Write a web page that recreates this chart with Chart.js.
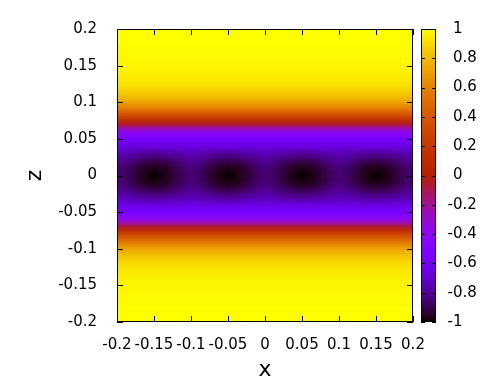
<!DOCTYPE html>
<html>
<head>
<meta charset="utf-8">
<script src="https://cdn.jsdelivr.net/npm/chart.js@4/dist/chart.umd.min.js"></script>
<style>
html,body{margin:0;padding:0;background:#fff;}
canvas{display:block;}
</style>
</head>
<body>
<canvas id="c" width="489" height="385"></canvas>
<script>
// ---- data ----
const xLevels = [-0.2,-0.1875,-0.175,-0.1625,-0.15,-0.1375,-0.125,-0.1125,-0.1,-0.0875,-0.075,-0.0625,-0.05,-0.0375,-0.025,-0.0125,0,0.0125,0.025,0.0375,0.05,0.0625,0.075,0.0875,0.1,0.1125,0.125,0.1375,0.15,0.1625,0.175,0.1875,0.2];

const zLevels = [0.2,0.195,0.19,0.185,0.18,0.175,0.17,0.165,0.16,0.155,0.15,0.145,0.14,0.135,0.13,0.125,0.12,0.115,0.11,0.105,0.1,0.095,0.09,0.085,0.08,0.075,0.07,0.065,0.06,0.055,0.05,0.045,0.04,0.035,0.03,0.025,0.02,0.015,0.01,0.005,0,
-0.005,-0.01,-0.015,-0.02,-0.025,-0.03,-0.035,-0.04,-0.045,-0.05,-0.055,-0.06,-0.065,-0.07,-0.075,-0.08,-0.085,-0.09,-0.095,-0.1,-0.105,-0.11,-0.115,-0.12,-0.125,-0.13,-0.135,-0.14,-0.145,-0.15,-0.155,-0.16,-0.165,-0.17,-0.175,-0.18,-0.185,-0.19,-0.195,-0.2];

// value of each z row where the field does not vary along x
const rowLevel = [1.00,1.00,1.00,1.00,1.00,0.99,0.99,0.99,0.98,0.98,0.97,0.97,0.96,0.95,0.94,0.92,0.90,0.87,0.83,0.78,0.72,0.64,0.54,0.42,0.28,0.12,-0.06,-0.22,-0.36,-0.46,-0.54,-0.60,-0.65,-0.70,-0.74,-0.77,-0.80,-0.82,-0.84,-0.85,
-0.85,
-0.85,-0.84,-0.82,-0.80,-0.77,-0.74,-0.70,-0.65,-0.60,-0.54,-0.46,-0.36,-0.22,-0.06,0.12,0.28,0.42,0.54,0.64,0.72,0.78,0.83,0.87,0.90,0.92,0.94,0.95,0.96,0.97,0.97,0.98,0.98,0.99,0.99,0.99,1.00,1.00,1.00,1.00,1.00];

// central rows, where the dark spots make the field vary along x
const coreZ = [0.035,0.03,0.025,0.02,0.015,0.01,0.005,0,-0.005,-0.01,-0.015,-0.02,-0.025,-0.03,-0.035];
const coreRows = [
[-0.70,-0.71,-0.72,-0.73,-0.74,-0.73,-0.72,-0.71,-0.70,-0.71,-0.72,-0.73,-0.74,-0.73,-0.72,-0.71,-0.70,-0.71,-0.72,-0.73,-0.74,-0.73,-0.72,-0.71,-0.70,-0.71,-0.72,-0.73,-0.74,-0.73,-0.72,-0.71,-0.70],
[-0.74,-0.76,-0.78,-0.79,-0.80,-0.79,-0.78,-0.76,-0.74,-0.76,-0.78,-0.79,-0.80,-0.79,-0.78,-0.76,-0.74,-0.76,-0.78,-0.79,-0.80,-0.79,-0.78,-0.76,-0.74,-0.76,-0.78,-0.79,-0.80,-0.79,-0.78,-0.76,-0.74],
[-0.77,-0.79,-0.82,-0.84,-0.85,-0.84,-0.82,-0.79,-0.77,-0.79,-0.82,-0.84,-0.85,-0.84,-0.82,-0.79,-0.77,-0.79,-0.82,-0.84,-0.85,-0.84,-0.82,-0.79,-0.77,-0.79,-0.82,-0.84,-0.85,-0.84,-0.82,-0.79,-0.77],
[-0.80,-0.82,-0.86,-0.89,-0.90,-0.89,-0.86,-0.82,-0.80,-0.82,-0.86,-0.89,-0.90,-0.89,-0.86,-0.82,-0.80,-0.82,-0.86,-0.89,-0.90,-0.89,-0.86,-0.82,-0.80,-0.82,-0.86,-0.89,-0.90,-0.89,-0.86,-0.82,-0.80],
[-0.82,-0.85,-0.89,-0.93,-0.94,-0.93,-0.89,-0.85,-0.82,-0.85,-0.89,-0.93,-0.94,-0.93,-0.89,-0.85,-0.82,-0.85,-0.89,-0.93,-0.94,-0.93,-0.89,-0.85,-0.82,-0.85,-0.89,-0.93,-0.94,-0.93,-0.89,-0.85,-0.82],
[-0.84,-0.87,-0.92,-0.96,-0.97,-0.96,-0.92,-0.87,-0.84,-0.87,-0.92,-0.96,-0.97,-0.96,-0.92,-0.87,-0.84,-0.87,-0.92,-0.96,-0.97,-0.96,-0.92,-0.87,-0.84,-0.87,-0.92,-0.96,-0.97,-0.96,-0.92,-0.87,-0.84],
[-0.85,-0.88,-0.93,-0.97,-0.99,-0.97,-0.93,-0.88,-0.85,-0.88,-0.93,-0.97,-0.99,-0.97,-0.93,-0.88,-0.85,-0.88,-0.93,-0.97,-0.99,-0.97,-0.93,-0.88,-0.85,-0.88,-0.93,-0.97,-0.99,-0.97,-0.93,-0.88,-0.85],
[-0.85,-0.88,-0.93,-0.98,-1.00,-0.98,-0.93,-0.88,-0.85,-0.88,-0.93,-0.98,-1.00,-0.98,-0.93,-0.88,-0.85,-0.88,-0.93,-0.98,-1.00,-0.98,-0.93,-0.88,-0.85,-0.88,-0.93,-0.98,-1.00,-0.98,-0.93,-0.88,-0.85],
[-0.85,-0.88,-0.93,-0.97,-0.99,-0.97,-0.93,-0.88,-0.85,-0.88,-0.93,-0.97,-0.99,-0.97,-0.93,-0.88,-0.85,-0.88,-0.93,-0.97,-0.99,-0.97,-0.93,-0.88,-0.85,-0.88,-0.93,-0.97,-0.99,-0.97,-0.93,-0.88,-0.85],
[-0.84,-0.87,-0.92,-0.96,-0.97,-0.96,-0.92,-0.87,-0.84,-0.87,-0.92,-0.96,-0.97,-0.96,-0.92,-0.87,-0.84,-0.87,-0.92,-0.96,-0.97,-0.96,-0.92,-0.87,-0.84,-0.87,-0.92,-0.96,-0.97,-0.96,-0.92,-0.87,-0.84],
[-0.82,-0.85,-0.89,-0.93,-0.94,-0.93,-0.89,-0.85,-0.82,-0.85,-0.89,-0.93,-0.94,-0.93,-0.89,-0.85,-0.82,-0.85,-0.89,-0.93,-0.94,-0.93,-0.89,-0.85,-0.82,-0.85,-0.89,-0.93,-0.94,-0.93,-0.89,-0.85,-0.82],
[-0.80,-0.82,-0.86,-0.89,-0.90,-0.89,-0.86,-0.82,-0.80,-0.82,-0.86,-0.89,-0.90,-0.89,-0.86,-0.82,-0.80,-0.82,-0.86,-0.89,-0.90,-0.89,-0.86,-0.82,-0.80,-0.82,-0.86,-0.89,-0.90,-0.89,-0.86,-0.82,-0.80],
[-0.77,-0.79,-0.82,-0.84,-0.85,-0.84,-0.82,-0.79,-0.77,-0.79,-0.82,-0.84,-0.85,-0.84,-0.82,-0.79,-0.77,-0.79,-0.82,-0.84,-0.85,-0.84,-0.82,-0.79,-0.77,-0.79,-0.82,-0.84,-0.85,-0.84,-0.82,-0.79,-0.77],
[-0.74,-0.76,-0.78,-0.79,-0.80,-0.79,-0.78,-0.76,-0.74,-0.76,-0.78,-0.79,-0.80,-0.79,-0.78,-0.76,-0.74,-0.76,-0.78,-0.79,-0.80,-0.79,-0.78,-0.76,-0.74,-0.76,-0.78,-0.79,-0.80,-0.79,-0.78,-0.76,-0.74],
[-0.70,-0.71,-0.72,-0.73,-0.74,-0.73,-0.72,-0.71,-0.70,-0.71,-0.72,-0.73,-0.74,-0.73,-0.72,-0.71,-0.70,-0.71,-0.72,-0.73,-0.74,-0.73,-0.72,-0.71,-0.70,-0.71,-0.72,-0.73,-0.74,-0.73,-0.72,-0.71,-0.70]
];

const xTicks = [-0.2,-0.15,-0.1,-0.05,0,0.05,0.1,0.15,0.2];
const xTickLabels = ['-0.2','-0.15','-0.1','-0.05','0','0.05','0.1','0.15','0.2'];
const zTicks = [-0.2,-0.15,-0.1,-0.05,0,0.05,0.1,0.15,0.2];
const zTickLabels = ['-0.2','-0.15','-0.1','-0.05','0','0.05','0.1','0.15','0.2'];
const cbTicks = [-1,-0.8,-0.6,-0.4,-0.2,0,0.2,0.4,0.6,0.8,1];
const cbTickLabels = ['-1','-0.8','-0.6','-0.4','-0.2','0','0.2','0.4','0.6','0.8','1'];

// ---- table built from the arrays ----
function buildGrid() {
  const key = v => v.toFixed(4);
  const coreMap = {};
  coreZ.forEach((z, k) => { coreMap[key(z)] = coreRows[k]; });
  return zLevels.map((z, j) => coreMap[key(z)] || xLevels.map(() => rowLevel[j]));
}

// gnuplot default pm3d palette (rgbformulae 7,5,15)
function palette(v) {
  let t = (v + 1) / 2;
  t = Math.max(0, Math.min(1, t));
  const r = Math.sqrt(t), g = t * t * t, b = Math.max(0, Math.sin(2 * Math.PI * t));
  return [Math.round(r * 255), Math.round(g * 255), Math.round(b * 255)];
}

const FONT = 'DejaVu Sans';

const heatPlugin = {
  id: 'heat',
  beforeDatasetsDraw(chart) {
    const {ctx, chartArea: a, scales: {x, y}} = chart;
    const grid = buildGrid();
    const off = document.createElement('canvas');
    off.width = xLevels.length; off.height = zLevels.length;
    const octx = off.getContext('2d');
    const img = octx.createImageData(off.width, off.height);
    for (let j = 0; j < zLevels.length; j++) {
      for (let i = 0; i < xLevels.length; i++) {
        const c = palette(grid[j][i]);
        const p = (j * off.width + i) * 4;
        img.data[p] = c[0]; img.data[p + 1] = c[1]; img.data[p + 2] = c[2]; img.data[p + 3] = 255;
      }
    }
    octx.putImageData(img, 0, 0);
    const hx = (xLevels[1] - xLevels[0]) / 2;
    const hz = (zLevels[0] - zLevels[1]) / 2;
    const px0 = x.getPixelForValue(xLevels[0] - hx);
    const px1 = x.getPixelForValue(xLevels[xLevels.length - 1] + hx);
    const py0 = y.getPixelForValue(zLevels[0] + hz);
    const py1 = y.getPixelForValue(zLevels[zLevels.length - 1] - hz);
    ctx.save();
    ctx.beginPath();
    ctx.rect(a.left, a.top, a.right - a.left, a.bottom - a.top);
    ctx.clip();
    ctx.imageSmoothingEnabled = true;
    ctx.imageSmoothingQuality = 'low';
    ctx.drawImage(off, px0, py0, px1 - px0, py1 - py0);
    ctx.restore();
  },
  afterDatasetsDraw(chart) {
    const {ctx, chartArea: a, scales: {x, y, cb}} = chart;
    ctx.save();
    ctx.strokeStyle = '#000';
    ctx.lineWidth = 1;
    // plot border
    ctx.strokeRect(Math.round(a.left) + 0.5, Math.round(a.top) + 0.5, Math.round(a.right - a.left) - 1, Math.round(a.bottom - a.top) - 1);
    const TL = 6;
    ctx.beginPath();
    xTicks.forEach(v => {
      const px = Math.round(x.getPixelForValue(v)) + 0.5;
      ctx.moveTo(px, a.bottom); ctx.lineTo(px, a.bottom - TL);
      ctx.moveTo(px, a.top); ctx.lineTo(px, a.top + TL);
    });
    zTicks.forEach(v => {
      const py = Math.round(y.getPixelForValue(v)) + 0.5;
      ctx.moveTo(a.left, py); ctx.lineTo(a.left + TL, py);
      ctx.moveTo(a.right, py); ctx.lineTo(a.right - TL, py);
    });
    ctx.stroke();

    // colour box
    const cl = Math.round(a.right) + 8, cr = Math.round(a.right) + 23;
    const ct = Math.round(cb.getPixelForValue(cb.max)), cbm = Math.round(cb.getPixelForValue(cb.min));
    for (let py = ct; py < cbm; py++) {
      const c = palette(cb.getValueForPixel(py + 0.5));
      ctx.fillStyle = `rgb(${c[0]},${c[1]},${c[2]})`;
      ctx.fillRect(cl, py, cr - cl, 1);
    }
    ctx.strokeRect(cl + 0.5, ct + 0.5, cr - cl - 1, cbm - ct - 1);
    ctx.beginPath();
    cbTicks.forEach(v => {
      const py = Math.round(cb.getPixelForValue(v)) + 0.5;
      ctx.moveTo(cl, py); ctx.lineTo(cl + 4, py);
      ctx.moveTo(cr, py); ctx.lineTo(cr - 4, py);
    });
    ctx.stroke();
    ctx.fillStyle = '#000';
    ctx.font = `15px "${FONT}"`;
    ctx.textAlign = 'left';
    ctx.textBaseline = 'middle';
    const minusW = ctx.measureText('-').width;
    cbTicks.forEach((v, i) => {
      const lab = cbTickLabels[i];
      let tx = Math.round(a.right) + 40;
      if (lab.charAt(0) === '-') tx -= minusW;
      ctx.fillText(lab, tx, cb.getPixelForValue(v));
    });
    ctx.restore();
  }
};

new Chart(document.getElementById('c'), {
  type: 'scatter',
  data: { datasets: [{ data: [], pointRadius: 0 }] },
  options: {
    responsive: false,
    animation: false,
    devicePixelRatio: 1,
    layout: { padding: { top: 25, left: 0, right: 0, bottom: 0 } },
    plugins: { legend: { display: false }, tooltip: { enabled: false } },
    scales: {
      x: {
        type: 'linear', position: 'bottom', min: -0.2, max: 0.2,
        grid: { display: false, drawTicks: false },
        border: { display: false },
        afterBuildTicks: s => { s.ticks = xTicks.map(v => ({ value: v })); },
        afterFit: s => { s.height = 63; },
        ticks: {
          autoSkip: false, maxRotation: 0, padding: 14, color: '#000',
          font: { family: FONT, size: 15 },
          callback: (v, i) => xTickLabels[i]
        },
        title: { display: true, text: 'x', color: '#000', font: { family: FONT, size: 22 }, padding: { top: 0, bottom: 2 } }
      },
      y: {
        type: 'linear', position: 'left', min: -0.2, max: 0.2,
        grid: { display: false, drawTicks: false },
        border: { display: false },
        afterBuildTicks: s => { s.ticks = zTicks.map(v => ({ value: v })); },
        afterFit: s => { s.width = 117; },
        ticks: {
          autoSkip: false, padding: 20, color: '#000',
          font: { family: FONT, size: 15 },
          callback: (v, i) => zTickLabels[i]
        },
        title: { display: true, text: 'z', color: '#000', font: { family: FONT, size: 22 }, padding: { top: 22, bottom: 0 } }
      },
      cb: {
        type: 'linear', position: 'right', min: -1, max: 1,
        grid: { display: false, drawTicks: false },
        border: { display: false },
        ticks: { display: false },
        afterFit: s => { s.width = 76; }
      }
    }
  },
  plugins: [heatPlugin]
});
</script>
</body>
</html>
